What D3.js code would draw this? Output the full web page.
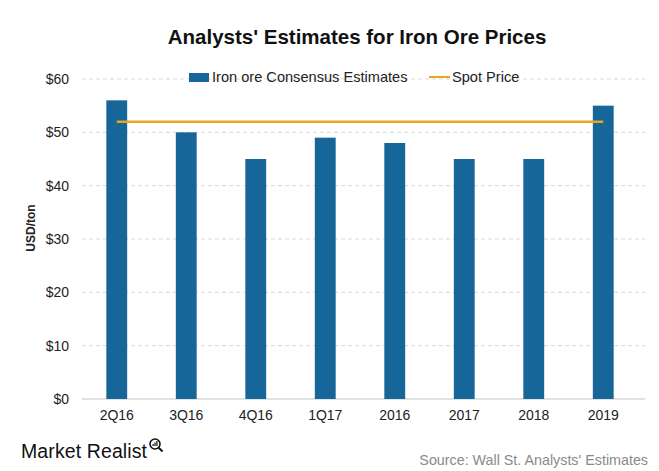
<!DOCTYPE html>
<html><head><meta charset="utf-8">
<script src="https://cdn.jsdelivr.net/npm/d3@7"></script>
<style>body{margin:0;background:#fff}svg{display:block}text{font-family:Arial,"Liberation Sans",sans-serif}</style>
</head><body><svg id="c" width="659" height="471"></svg>
<script>
const categories = ["2Q16","3Q16","4Q16","1Q17","2016","2017","2018","2019"];
const estimates = [56,50,45,49,48,45,45,55];
const spotPrice = [52,52,52,52,52,52,52,52];
const yTicks = [0,10,20,30,40,50,60];

const svg = d3.select("#c");
const x = d3.scaleBand().domain(categories).range([82,638]);
const y = d3.scaleLinear().domain([0,60]).range([399,79]);

svg.append("text").attr("x",357).attr("y",44).attr("text-anchor","middle")
  .attr("font-size",20.5).attr("font-weight","bold").attr("fill","#111").text("Analysts' Estimates for Iron Ore Prices");

const grid = svg.append("g");
yTicks.filter(d=>d>0).forEach(d=>{
  grid.append("line").attr("x1",82).attr("x2",645).attr("y1",y(d)).attr("y2",y(d))
    .attr("stroke","#d9d9d9").attr("stroke-dasharray","4,3");
});
svg.append("line").attr("x1",82).attr("x2",645).attr("y1",y(0)).attr("y2",y(0)).attr("stroke","#d9d9d9").attr("stroke-width",1.5);

const yAxis = svg.append("g").attr("transform","translate(69,0)")
  .call(d3.axisLeft(y).tickValues(yTicks).tickSize(0).tickPadding(0).tickFormat(d=>"$"+d));
yAxis.select(".domain").remove();
yAxis.selectAll("text").attr("font-size",14).attr("fill","#222").attr("font-family","Arial,'Liberation Sans',sans-serif");

const bw = x.step()*0.3;
svg.append("g").selectAll("rect").data(categories).join("rect")
  .attr("x",d=>x(d)+x.bandwidth()/2-bw/2).attr("width",bw)
  .attr("y",(d,i)=>y(estimates[i])).attr("height",(d,i)=>y(0)-y(estimates[i]))
  .attr("fill","#176699");

const line = d3.line().x((d,i)=>x(categories[i])+x.bandwidth()/2).y(d=>y(d));
svg.append("path").datum(spotPrice).attr("d",line).attr("fill","none").attr("stroke","#E8A71C").attr("stroke-width",2.5);

const xAxis = svg.append("g").attr("transform","translate(0,399)")
  .call(d3.axisBottom(x).tickSize(0).tickPadding(11));
xAxis.select(".domain").remove();
xAxis.selectAll("text").attr("font-size",14).attr("fill","#222").attr("font-family","Arial,'Liberation Sans',sans-serif");

svg.append("text").attr("transform","translate(35,228) rotate(-90)").attr("text-anchor","middle")
  .attr("font-size",12).attr("font-weight","bold").attr("fill","#222").text("USD/ton");

// legend
svg.append("rect").attr("x",189).attr("y",73).attr("width",20).attr("height",9).attr("fill","#176699");
svg.append("text").attr("x",212).attr("y",82).attr("font-size",14.6).attr("fill","#222").text("Iron ore Consensus Estimates");
svg.append("line").attr("x1",429).attr("x2",450).attr("y1",77).attr("y2",77).attr("stroke","#E8A71C").attr("stroke-width",2);
svg.append("text").attr("x",452).attr("y",82).attr("font-size",14.6).attr("fill","#222").text("Spot Price");

// footer
svg.append("text").attr("x",21).attr("y",458).attr("font-size",19.5).attr("fill","#111").attr("textLength",126).text("Market Realist");
const mg = svg.append("g").attr("transform","translate(155,444)");
mg.append("circle").attr("cx",0).attr("cy",0).attr("r",5).attr("fill","none").attr("stroke","#111").attr("stroke-width",1.6);
mg.append("line").attr("x1",3.5).attr("y1",3.5).attr("x2",7.5).attr("y2",7.5).attr("stroke","#111").attr("stroke-width",2);
mg.append("rect").attr("x",-2.5).attr("y",0).attr("width",1.2).attr("height",2).attr("fill","#111");
mg.append("rect").attr("x",-0.6).attr("y",-1.5).attr("width",1.2).attr("height",3.5).attr("fill","#111");
mg.append("rect").attr("x",1.3).attr("y",-3).attr("width",1.2).attr("height",5).attr("fill","#111");
svg.append("text").attr("x",648).attr("y",465).attr("text-anchor","end").attr("font-size",14.3).attr("fill","#8a8a8a").text("Source: Wall St. Analysts' Estimates");
</script></body></html>
